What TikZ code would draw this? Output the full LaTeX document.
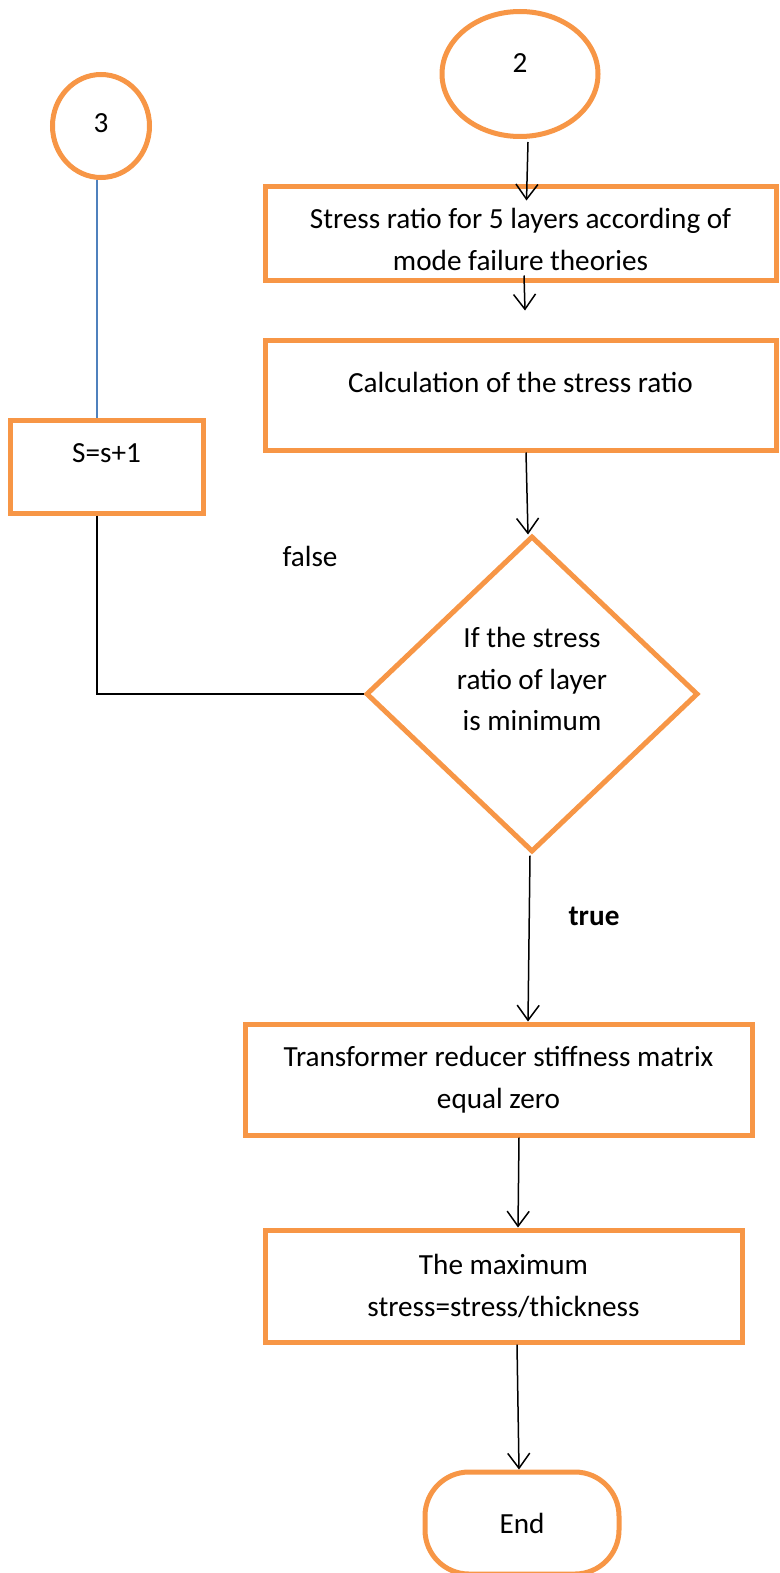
\documentclass[tikz,border=0pt]{standalone}
\usepackage{fontspec}
\setmainfont{Carlito}
\usetikzlibrary{arrows.meta,shapes.geometric}
\definecolor{flowor}{HTML}{F79646}
\definecolor{flowbl}{HTML}{4F81BD}
\tikzset{
  txt/.style={font=\fontsize{29.2}{41.5}\selectfont, align=center, inner sep=0pt},
  stepbox/.style={txt, draw=flowor, line width=5pt, rectangle, fill=white},
  decide/.style={txt, draw=flowor, line width=5pt, diamond, fill=white},
  conn/.style={txt, draw=flowor, line width=5pt, ellipse, fill=white},
  term/.style={txt, draw=flowor, line width=5pt, rectangle, rounded corners=44pt, fill=white},
  flow/.style={draw=black, line width=1.5pt, -{Straight Barb[length=15pt,width=22pt,line width=1.5pt]}},
  link/.style={draw=black, line width=1.5pt},
  bluelink/.style={draw=flowbl, line width=1.6pt},
}
\begin{document}
\begin{tikzpicture}[x=1pt,y=-1pt]
\useasboundingbox (0,0) rectangle (779,1573);

% connectors and start nodes
\node[conn, minimum width=156pt, minimum height=125pt, text depth=21pt] (c2) at (520,74) {2};
\node[conn, minimum width=97pt, minimum height=103pt, text depth=5pt] (c3) at (101,126) {3};

% process boxes
\node[stepbox, minimum width=511pt, minimum height=93pt, text height=74pt] (b1) at (520.5,233.5)
  {Stress ratio for 5 layers according of\\mode failure theories};
\node[stepbox, minimum width=511pt, minimum height=110pt, text depth=25pt] (b2) at (520.5,395)
  {Calculation of the stress ratio};
\node[stepbox, minimum width=193pt, minimum height=93pt, text depth=27pt] (s1) at (106.5,466.5) {S=s+1};

% decision
\node[decide, minimum width=332pt, minimum height=316pt, text depth=30pt] (d1) at (532,694)
  {If the stress\\ratio of layer\\is minimum};

\node[stepbox, minimum width=507pt, minimum height=111pt] (b3) at (498.5,1079.5)
  {Transformer reducer stiffness matrix\\equal zero};
\node[stepbox, minimum width=477pt, minimum height=112pt] (b4) at (503.5,1286)
  {The maximum\\stress=stress/thickness};

\node[term, minimum width=194pt, minimum height=102pt] (end) at (522,1523) {End};

% branch labels
\node[txt] (lf) at (310,556) {false};
\node[txt, font=\fontsize{29.2}{41.5}\selectfont\bfseries] (lt) at (594,916) {true};

% flow lines
\coordinate (a1s) at ([xshift=8pt,yshift=-3pt]c2.south);
\coordinate (a1e) at ([xshift=6pt,yshift=-16pt]b1.north);
\draw[flow] (a1s) -- (a1e);
\coordinate (a2s) at ([xshift=3.5pt,yshift=7pt]b1.south);
\coordinate (a2e) at ([xshift=4.5pt,yshift=27pt]b2.north);
\draw[flow] (a2s) -- (a2e);
\draw[flow] ([xshift=5.5pt]b2.south) -- ([xshift=-4pt,yshift=-1pt]d1.north);
\draw[flow] ([xshift=-2pt,yshift=-1pt]d1.south) -- ([xshift=29.5pt]b3.north);
\draw[flow] ([xshift=20.5pt]b3.south) -- ([xshift=14.5pt]b4.north);
\draw[flow] ([xshift=13.5pt]b4.south) -- ([xshift=-3pt]end.north);

% loop back
\draw[bluelink] (c3.south -| s1.north) ++(-9.5pt,0) coordinate (bl1) -- (bl1 |- s1.north);
\coordinate (lp) at (bl1 |- d1.west);
\draw[link] (bl1 |- s1.south) -- (lp) -- (d1.west);
\end{tikzpicture}
\end{document}
